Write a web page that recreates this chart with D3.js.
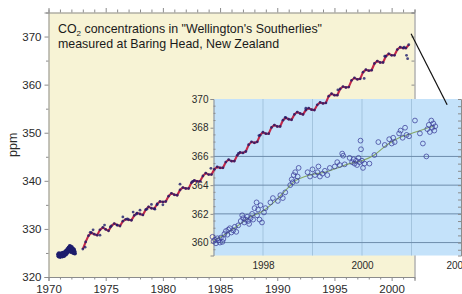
<!DOCTYPE html>
<html>
<head>
<meta charset="utf-8">
<script src="https://cdn.jsdelivr.net/npm/d3@7"></script>
<style>
body { margin: 0; background: #fff; }
svg { display: block; font-family: "Liberation Sans", Arial, sans-serif; }
</style>
</head>
<body>
<div id="chart"></div>
<script>
// main record, quarterly readings (Jan, Apr, Jul, Oct) per year
const seasonYears = [1973,1974,1975,1976,1977,1978,1979,1980,1981,1982,1983,1984,1985,1986,1987,
  1988,1989,1990,1991,1992,1993,1994,1995,1996,1997,1998,1999,2000,2001];
const seasonPpm = [
  [325.8,327.3,328.6,329.2],[328.9,328.7,329.8,330.3],[329.9,329.6,330.6,331.1],[330.8,330.6,331.6,332.0],
  [331.9,331.8,332.8,333.3],[333.1,332.9,334.0,334.6],[334.3,334.2,335.2,335.7],[335.6,335.7,336.8,337.4],
  [337.1,337.0,338.1,338.6],[338.4,338.4,339.6,340.1],[339.9,339.9,341.0,341.6],[341.3,341.3,342.4,342.9],
  [342.7,342.7,343.9,344.4],[344.1,344.1,345.3,345.9],[345.8,346.1,347.5,348.1],[347.9,348.1,349.5,350.1],
  [349.8,349.8,351.1,351.6],[351.3,351.3,352.6,353.1],[352.8,352.7,353.8,354.3],[354.0,353.8,354.7,355.1],
  [354.8,354.7,355.8,356.3],[356.1,356.2,357.6,358.1],[357.8,357.8,359.1,359.6],[359.4,359.5,360.9,361.4],
  [361.1,361.2,362.6,363.1],[362.9,363.0,364.4,364.9],[364.6,364.6,365.9,366.4],[366.1,366.1,367.3,367.8],
  [367.6,367.6,368.3]
];
// early samples 1971-72 (no fitted line)
const earlyDots = [[1970.85,324.7],[1970.88,324.3],[1970.92,324.9],[1970.97,324.5],[1971.02,324.2],
  [1971.07,324.8],[1971.12,324.4],[1971.17,324.9],[1971.22,324.3],[1971.27,325.0],[1971.32,324.6],
  [1971.37,324.4],[1971.42,325.0],[1971.47,325.3],[1971.52,324.7],[1971.57,325.5],[1971.62,325.0],
  [1971.67,325.8],[1971.72,325.3],[1971.77,326.1],[1971.82,325.6],[1971.87,326.4],[1971.92,325.8],
  [1971.97,325.2],[1972.02,326.2],[1972.07,325.4],[1972.12,325.9],[1972.17,325.0],[1972.22,325.7],
  [1972.27,325.3],[1972.3,324.9]];
// scatter off the line
const extraDots = [[1973.2,326.2],[1973.65,329.3],[1973.9,329.8],[1974.5,328.7],[1974.9,330.8],
  [1975.4,330.4],[1976.0,330.8],[1976.5,332.5],[1976.9,332.1],[1977.4,333.5],[1977.7,333.1],
  [1978.0,333.9],[1978.6,334.1],[1979.0,335.1],[1979.3,334.1],[1979.5,335.0],[1980.0,335.0],
  [1981.5,339.3],[1982.6,339.9],[1984.2,342.6],[1986.6,345.7],[1988.4,349.4],[1990.7,353.2],
  [1992.5,355.1],[1995.3,358.9],[1997.6,361.3],[1999.4,365.9],[2001.1,367.8],[2001.3,366.1],
  [2001.4,365.4]];

// inset 1997-2001 samples
const insetDots = [[1996.98,360.4],[1997.0,360.1],[1997.03,360.2],[1997.05,359.95],[1997.08,360.3],
  [1997.1,360.15],[1997.13,360.0],[1997.15,360.35],[1997.18,360.05],[1997.2,360.25],
  [1997.22,360.6],[1997.25,360.8],[1997.28,360.55],[1997.3,360.9],[1997.33,361.0],[1997.36,360.7],
  [1997.4,360.85],[1997.43,361.1],[1997.46,360.75],[1997.5,361.2],
  [1997.55,361.5],[1997.58,361.9],[1997.6,361.7],[1997.62,361.4],[1997.65,361.6],[1997.68,361.8],
  [1997.7,361.5],[1997.72,361.3],[1997.75,361.7],[1997.78,362.0],[1997.8,361.6],[1997.83,362.4],
  [1997.87,362.8],[1997.88,361.9],[1997.9,362.3],[1997.93,361.6],[1997.95,362.6],[1997.98,361.4],
  [1998.02,362.1],[1998.05,362.4],[1998.15,362.8],[1998.2,363.1],[1998.3,362.9],[1998.35,363.3],
  [1998.4,363.1],[1998.45,363.5],[1998.55,364.0],[1998.58,364.4],[1998.6,364.2],[1998.62,364.7],
  [1998.65,364.9],[1998.68,364.3],[1998.7,364.6],[1998.72,365.2],
  [1998.9,364.9],[1998.95,364.6],[1999.0,365.1],[1999.05,364.7],[1999.1,364.9],[1999.12,365.3],
  [1999.15,364.6],[1999.2,364.8],[1999.25,365.0],[1999.3,364.7],[1999.35,365.2],
  [1999.45,365.3],[1999.5,365.6],[1999.55,365.4],[1999.6,366.2],[1999.62,366.05],[1999.65,365.45],
  [1999.75,365.9],[1999.8,365.6],[1999.83,365.8],[1999.85,365.5],[1999.88,365.7],[1999.9,365.4],
  [1999.93,365.9],[1999.95,365.6],[1999.97,367.1],[1999.98,366.5],[2000.0,365.7],[2000.02,365.2],
  [2000.05,365.5],[2000.15,365.5],[2000.25,366.1],[2000.33,367.0],[2000.46,366.8],[2000.55,367.2],
  [2000.6,366.9],[2000.63,367.3],[2000.66,367.0],[2000.75,367.6],[2000.78,367.8],[2000.82,367.3],
  [2000.87,368.0],[2000.9,367.5],[2000.95,367.4],[2001.07,368.5],[2001.17,367.6],[2001.23,366.9],
  [2001.3,366.0],[2001.32,367.9],[2001.35,368.2],[2001.37,367.7],[2001.4,368.5],[2001.42,368.0],
  [2001.44,368.3],[2001.46,367.8],[2001.48,368.1]];
const insetFitYears = [1997.0,1997.25,1997.5,1997.75,1998.0,1998.25,1998.5,1998.65,1998.85,1999.0,
  1999.25,1999.5,1999.75,2000.0,2000.25,2000.5,2000.75,2001.0,2001.25,2001.45];
const insetFitPpm = [360.15,360.6,361.2,361.8,362.2,362.9,363.8,364.3,364.6,364.75,
  364.9,365.2,365.5,365.7,366.1,366.8,367.3,367.6,367.9,368.1];

const mainYTicks = [320,330,340,350,360,370];
const mainXTicks = [1970,1975,1980,1985,1990,1995,2000];
const insetYTicks = [360,362,364,366,368,370];
const insetXTicks = [1998,2000,2002];
const insetHGrid = [360,362,364,366];
const insetVGrid = [1998,1999,2000,2001];
const pointerFrom = [2001.7, 370.6];
const pointerTo = [2001.72, 369.6];

const W = 462, H = 294;
const svg = d3.select("#chart").append("svg").attr("width", W).attr("height", H);

let x = d3.scaleLinear().domain([1970, 2002]).range([48.5, 414.5]);
let y = d3.scaleLinear().domain([320, 375]).range([277, 12.5]);
let ix = d3.scaleLinear().domain([1997, 2002]).range([213.5, 461]);
let iy = d3.scaleLinear().domain([359.1, 370]).range([255.5, 99]);

const axisCol = "#8c8c8c", textCol = "#2a2a2a";

// main panel
svg.append("rect").attr("x", x(1970)).attr("y", y(375)).attr("width", x(2002) - x(1970))
  .attr("height", y(320) - y(375)).attr("fill", "#f7f3d5");

function styleAxis(g, size) {
  g.selectAll("path.domain").attr("stroke", axisCol);
  g.selectAll(".tick line").attr("stroke", axisCol);
  g.selectAll("text").attr("fill", textCol).style("font-size", size + "px")
    .style("font-family", "'Liberation Sans', Arial, sans-serif");
}

let gl = svg.append("g").attr("transform", "translate(" + x(1970) + ",0)")
  .call(d3.axisLeft(y).tickValues(d3.range(320, 376, 5)).tickSizeOuter(0)
    .tickSize(4).tickPadding(3).tickFormat(d => mainYTicks.includes(d) ? d : ""));
styleAxis(gl, 11.5);
gl.selectAll(".tick").filter(d => !mainYTicks.includes(d)).select("line").attr("x2", -2.5);

let gb = svg.append("g").attr("transform", "translate(0," + y(320) + ")")
  .call(d3.axisBottom(x).tickValues(d3.range(1970, 2003)).tickSizeOuter(0)
    .tickSize(4).tickPadding(4).tickFormat(d => mainXTicks.includes(d) ? d : ""));
styleAxis(gb, 11.5);
gb.selectAll(".tick").filter(d => !mainXTicks.includes(d)).select("line").attr("y2", 2.5);

let gt = svg.append("g").attr("transform", "translate(0," + y(375) + ")")
  .call(d3.axisTop(x).tickValues(d3.range(1970, 2003)).tickSizeOuter(0).tickSize(3).tickFormat(""));
styleAxis(gt, 11);
gt.selectAll(".tick").filter(d => mainXTicks.includes(d)).select("line").attr("y2", -4.5);

let gr = svg.append("g").attr("transform", "translate(" + x(2002) + ",0)")
  .call(d3.axisRight(y).tickValues(d3.range(325, 376, 5)).tickSizeOuter(0).tickSize(-3).tickFormat(""));
styleAxis(gr, 11);

svg.append("text").attr("transform", "translate(17," + y(347.5) + ") rotate(-90)")
  .attr("text-anchor", "middle").attr("fill", textCol).style("font-size", "12.5px").text("ppm");

let title = svg.append("text").attr("x", 58).attr("y", 33).attr("fill", "#1a1a1a").style("font-size", "12.4px");
title.append("tspan").text("CO");
title.append("tspan").attr("dy", 3).style("font-size", "8px").text("2");
title.append("tspan").attr("dy", -3).text(" concentrations in \"Wellington's Southerlies\"");
svg.append("text").attr("x", 58).attr("y", 47.5).attr("fill", "#1a1a1a").style("font-size", "12.4px")
  .text("measured at Baring Head, New Zealand");

// inset panel
svg.append("rect").attr("x", ix(1997)).attr("y", iy(370)).attr("width", ix(2002) - ix(1997))
  .attr("height", iy(359.1) - iy(370)).attr("fill", "#c4e2fa");

svg.append("g").selectAll("line").data(insetVGrid).enter().append("line")
  .attr("x1", d => ix(d)).attr("x2", d => ix(d)).attr("y1", iy(370)).attr("y2", iy(359.1))
  .attr("stroke", "#a3c4de").attr("stroke-width", 1);
svg.append("g").selectAll("line").data(insetHGrid).enter().append("line")
  .attr("x1", ix(1997)).attr("x2", ix(2002)).attr("y1", d => iy(d)).attr("y2", d => iy(d))
  .attr("stroke", "#6d8cab").attr("stroke-width", 1);

let il = svg.append("g").attr("transform", "translate(" + ix(1997) + ",0)")
  .call(d3.axisLeft(iy).tickValues(insetYTicks).tickSizeOuter(0).tickSize(3).tickPadding(2));
styleAxis(il, 10);
il.append("g").selectAll("line").data(d3.range(359.5, 370, 0.5).filter(v => v % 2 != 0)).enter()
  .append("line").attr("x1", 0).attr("x2", 2).attr("y1", d => iy(d)).attr("y2", d => iy(d))
  .attr("stroke", axisCol);

let ib = svg.append("g").attr("transform", "translate(0," + iy(359.1) + ")")
  .call(d3.axisBottom(ix).tickValues(insetXTicks).tickSizeOuter(0).tickSize(0).tickPadding(6)
    .tickFormat(d3.format("d")));
styleAxis(ib, 10);
ib.select("path.domain").remove();
// last label sits at the window edge, as in the source figure
ib.selectAll(".tick text").filter(d => d === 2002).attr("dx", -4);

let ir = svg.append("g").attr("transform", "translate(" + ix(2002) + ",0)")
  .call(d3.axisRight(iy).tickValues(d3.range(359.5, 370, 0.5)).tickSizeOuter(0).tickSize(-3).tickFormat(""));
styleAxis(ir, 10);

// inset data
svg.append("path").datum(insetFitYears.map((t, i) => [t, insetFitPpm[i]]))
  .attr("fill", "none").attr("stroke", "#86a765").attr("stroke-width", 1.1)
  .attr("d", d3.line().x(d => ix(d[0])).y(d => iy(d[1])).curve(d3.curveMonotoneX));
svg.append("g").selectAll("circle").data(insetDots).enter().append("circle")
  .attr("cx", d => ix(d[0])).attr("cy", d => iy(d[1])).attr("r", 2.4)
  .attr("fill", "none").attr("stroke", "#3d3f9a").attr("stroke-width", 0.9).attr("opacity", 0.85);

// pointer from main to inset
svg.append("line").attr("x1", x(pointerFrom[0])).attr("y1", y(pointerFrom[1]))
  .attr("x2", ix(pointerTo[0])).attr("y2", iy(pointerTo[1])).attr("stroke", "#111").attr("stroke-width", 1.2);

// main record
let series = [];
seasonYears.forEach((yr, i) => seasonPpm[i].forEach((v, q) => series.push([yr + q * 0.25, v])));

svg.append("g").selectAll("circle").data(earlyDots).enter().append("circle")
  .attr("cx", d => x(d[0])).attr("cy", d => y(d[1])).attr("r", 2.1).attr("fill", "#1d1c6c");
svg.append("path").datum(series).attr("fill", "none").attr("stroke", "#c42848").attr("stroke-width", 2.1)
  .attr("d", d3.line().x(d => x(d[0])).y(d => y(d[1])));
svg.append("g").selectAll("circle").data(series.concat(extraDots)).enter().append("circle")
  .attr("cx", d => x(d[0])).attr("cy", d => y(d[1])).attr("r", 1.4).attr("fill", "#1d1c6c").attr("opacity", 0.8);
</script>
</body>
</html>
